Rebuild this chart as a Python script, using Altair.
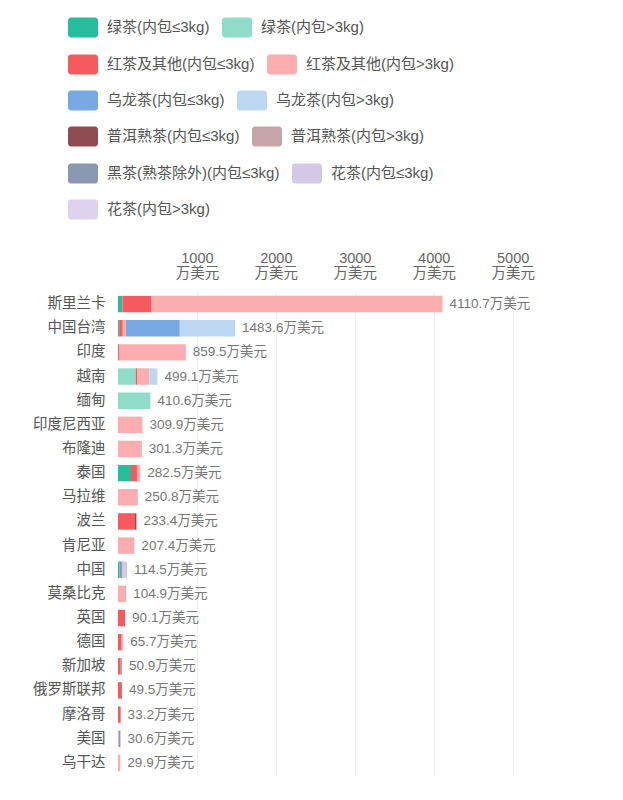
import altair as alt
import pandas as pd

FONT = "Noto Sans CJK SC"
MIXFONT = "Liberation Sans, Noto Sans CJK SC"

countries = ["斯里兰卡", "中国台湾", "印度", "越南", "缅甸", "印度尼西亚", "布隆迪", "泰国",
             "马拉维", "波兰", "肯尼亚", "中国", "莫桑比克", "英国", "德国", "新加坡",
             "俄罗斯联邦", "摩洛哥", "美国", "乌干达"]

categories = ["绿茶(内包≤3kg)", "绿茶(内包>3kg)", "红茶及其他(内包≤3kg)", "红茶及其他(内包>3kg)",
              "乌龙茶(内包≤3kg)", "乌龙茶(内包>3kg)", "普洱熟茶(内包≤3kg)", "普洱熟茶(内包>3kg)",
              "黑茶(熟茶除外)(内包≤3kg)", "花茶(内包≤3kg)", "花茶(内包>3kg)"]

colors = ["#27bc9c", "#8fdcc9", "#f65a5e", "#fbadb0", "#78a8e2", "#bdd7f3",
          "#8f4c53", "#c6a5a8", "#8a97b1", "#d3c9e7", "#ddd3ee"]

# legend rows as shown in the reference (two entries per row)
legend_rows = [[0, 1], [2, 3], [4, 5], [6, 7], [8, 9], [10]]

# values in 万美元, one list per category, in country order
green_small   = [55, 15, 0, 0, 0, 0, 0, 165, 0, 0, 0, 20, 0, 0, 0, 0, 0, 0, 0, 0]
green_large   = [0, 0, 0, 225, 410.6, 0, 0, 0, 0, 0, 0, 0, 0, 0, 0, 0, 0, 0, 0, 0]
black_small   = [370, 45, 12, 22, 0, 0, 0, 75, 0, 215.4, 0, 0, 0, 90.1, 45, 35, 49.5, 33.2, 0, 0]
black_large   = [3685.7, 40, 847.5, 152, 0, 309.9, 301.3, 42.5, 250.8, 0, 207.4, 0, 104.9, 0, 20.7, 0, 0, 0, 10, 29.9]
oolong_small  = [0, 683, 0, 0, 0, 0, 0, 0, 0, 0, 0, 0, 0, 0, 0, 0, 0, 0, 0, 0]
oolong_large  = [0, 700.6, 0, 100.1, 0, 0, 0, 0, 0, 0, 0, 0, 0, 0, 0, 0, 0, 0, 0, 0]
puer_small    = [0, 0, 0, 0, 0, 0, 0, 0, 0, 18, 0, 0, 0, 0, 0, 0, 0, 0, 0, 0]
puer_large    = [0, 0, 0, 0, 0, 0, 0, 0, 0, 0, 0, 0, 0, 0, 0, 15.9, 0, 0, 0, 0]
dark_small    = [0, 0, 0, 0, 0, 0, 0, 0, 0, 0, 0, 30, 0, 0, 0, 0, 0, 0, 20.6, 0]
flower_small  = [0, 0, 0, 0, 0, 0, 0, 0, 0, 0, 0, 64.5, 0, 0, 0, 0, 0, 0, 0, 0]
flower_large  = [0, 0, 0, 0, 0, 0, 0, 0, 0, 0, 0, 0, 0, 0, 0, 0, 0, 0, 0, 0]

series = [green_small, green_large, black_small, black_large, oolong_small, oolong_large,
          puer_small, puer_large, dark_small, flower_small, flower_large]

tick_values = [1000, 2000, 3000, 4000, 5000]
unit = "万美元"

rows = []
for ci, (cat, vals) in enumerate(zip(categories, series)):
    for country, v in zip(countries, vals):
        rows.append({"country": country, "category": cat, "order": ci, "value": v})
df = pd.DataFrame(rows)

swatch = ("M-0.8,-0.67 H0.8 A0.2,0.2 0 0 1 1,-0.47 V0.47 A0.2,0.2 0 0 1 0.8,0.67 "
          "H-0.8 A0.2,0.2 0 0 1 -1,0.47 V-0.47 A0.2,0.2 0 0 1 -0.8,-0.67 Z")

y_scale = alt.Scale(paddingInner=0.32, paddingOuter=0.16)
x_scale = alt.Scale(domain=[0, 5600], nice=False)

bars = alt.Chart(df).mark_bar().encode(
    y=alt.Y("country:N", sort=countries, title=None, scale=y_scale,
            axis=alt.Axis(labelFont=FONT, labelFontSize=14.5, labelColor="#555555",
                          labelPadding=13, ticks=False, domain=False, grid=False)),
    x=alt.X("sum(value):Q", stack="zero", scale=x_scale, title=None,
            axis=alt.Axis(orient="top", values=tick_values,
                          labelExpr="[datum.label, '" + unit + "']",
                          labelFont=MIXFONT, labelFontSize=14.5, labelColor="#666666",
                          labelLineHeight=15, labelPadding=27,
                          ticks=False, domain=False, grid=True, gridColor="#f0f0f0",
                          format="d")),
    color=alt.Color("category:N", scale=alt.Scale(domain=categories, range=colors), legend=None),
    order=alt.Order("order:Q"),
)

labels = alt.Chart(df).transform_aggregate(
    total="sum(value)", groupby=["country"]
).transform_calculate(
    txt="format(datum.total, '.1f') + '" + unit + "'"
).mark_text(align="left", baseline="middle", dx=7, font=MIXFONT, fontSize=13.5,
            color="#777777").encode(
    y=alt.Y("country:N", sort=countries),
    x=alt.X("total:Q", scale=x_scale),
    text="txt:N",
)

row_centers = [27, 64, 100, 136, 173, 209]
legend_layers = []
for r, idxs in enumerate(legend_rows):
    cats = [categories[i] for i in idxs]
    cols = [colors[i] for i in idxs]
    legend_layers.append(
        alt.Chart(df).transform_filter(
            alt.FieldOneOfPredicate(field="category", oneOf=cats)
        ).mark_bar(opacity=0).encode(
            y=alt.Y("country:N", sort=countries),
            x=alt.X("value:Q", scale=x_scale),
            color=alt.Color("category:N", scale=alt.Scale(domain=cats, range=cols),
                            legend=alt.Legend(orient="none", legendX=-50,
                                              legendY=row_centers[r] - 15 - 292,
                                              columns=2, direction="horizontal")),
        )
    )

chart = alt.layer(bars, labels, *legend_layers).resolve_scale(
    color="independent"
).properties(
    width=442, height=483,
    autosize=alt.AutoSizeParams(type="none"),
    padding={"left": 110, "top": 284, "right": 55, "bottom": 20},
).configure_view(stroke=None).configure_legend(
    title=None, symbolType=swatch, symbolSize=900, symbolStrokeWidth=0, symbolOpacity=1,
    labelFont=MIXFONT, labelFontSize=15, labelColor="#555555", labelOffset=9,
    labelLimit=400, columnPadding=12, rowPadding=0, padding=0,
)

chart.save("out.html", embed_options={"renderer": "svg", "actions": False})
